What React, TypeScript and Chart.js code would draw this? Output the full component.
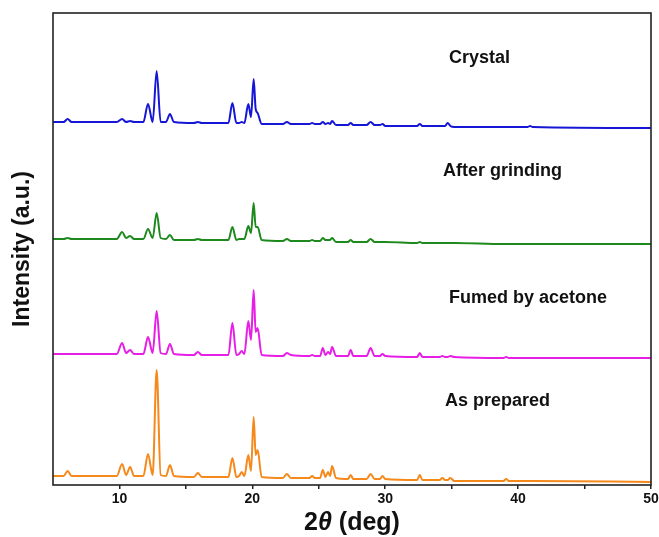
import React, { useEffect, useRef } from "react";
import { Chart, registerables } from "chart.js";

Chart.register(...registerables);

// 2θ sampling positions (deg)
const twoTheta = [
  5.0, 5.8, 6.1, 6.4, 9.8, 10.2, 10.5, 10.8, 11.1, 11.8,
  12.15, 12.5, 12.8, 13.1, 13.5, 13.8, 14.1, 15.6, 15.9, 16.2,
  18.2, 18.5, 18.8, 19.0, 19.2, 19.4, 19.7, 19.9, 20.1, 20.25,
  20.4, 20.7, 22.3, 22.6, 22.9, 24.3, 24.5, 24.7, 25.1, 25.3,
  25.5, 25.7, 25.85, 26.0, 26.3, 27.2, 27.4, 27.6, 28.6, 28.9,
  29.2, 29.6, 29.8, 30.0, 32.4, 32.6, 32.8, 34.1, 34.3, 34.5,
  34.7, 34.9, 35.2, 38.9, 39.1, 39.3, 40.7, 40.9, 41.1, 50.0,
];

const asPrepared = [
  9, 9, 14, 9, 9, 21, 10, 18, 9, 9,
  31, 10, 115, 10, 9, 20, 9, 8, 12, 8,
  8, 27, 8, 9, 13, 9, 30, 14, 68, 30,
  35, 8, 7, 11, 7, 7, 9, 7, 7, 15,
  8, 13, 9, 19, 7, 6, 10, 6, 6, 11,
  6, 6, 9, 6, 5, 10, 5, 5, 7, 5,
  5, 7, 4, 4, 6, 4, 4, 4, 4, 3,
];

const fumedByAcetone = [
  8, 8, 8, 8, 8, 19, 9, 12, 8, 8,
  25, 9, 51, 9, 8, 18, 8, 7, 10, 7,
  7, 39, 7, 8, 11, 8, 41, 22, 72, 30,
  34, 7, 6, 9, 7, 6, 7, 6, 6, 14,
  7, 10, 8, 15, 6, 6, 12, 6, 6, 14,
  6, 6, 8, 6, 5, 9, 5, 5, 6, 5,
  5, 6, 5, 4, 5, 4, 4, 4, 4, 4,
];

const afterGrinding = [
  8, 8, 9, 8, 8, 15, 9, 11, 8, 8,
  18, 9, 34, 9, 8, 12, 7, 7, 8, 7,
  7, 20, 7, 8, 8, 8, 21, 14, 44, 20,
  20, 7, 6, 8, 6, 6, 7, 6, 6, 9,
  7, 7, 7, 9, 5, 5, 7, 5, 5, 8,
  5, 5, 5, 5, 4, 5, 4, 4, 4, 4,
  4, 4, 4, 3, 3, 3, 3, 3, 3, 3,
];

const crystal = [
  9, 9, 12, 9, 9, 12, 9, 10, 9, 9,
  27, 9, 60, 9, 9, 17, 9, 8, 9, 8,
  8, 28, 8, 8, 9, 8, 27, 14, 52, 22,
  18, 7, 7, 9, 7, 7, 8, 7, 7, 9,
  7, 8, 7, 10, 6, 6, 8, 6, 6, 9,
  6, 6, 7, 5, 5, 7, 5, 5, 5, 5,
  8, 5, 4, 4, 4, 4, 4, 5, 4, 3,
];

const seriesNames = ["As prepared", "Fumed by acetone", "After grinding", "Crystal"];
const seriesValues = [asPrepared, fumedByAcetone, afterGrinding, crystal];
const seriesOffsets = [0, 123, 238, 354];
const seriesColors = ["#f5891c", "#e61ee6", "#1e8a1e", "#1616d6"];

// label anchor points (2θ, stacked intensity)
const labelX = [34.5, 34.8, 34.35, 34.8];
const labelY = [84, 187, 314, 427];

const xMajorTicks = [10, 20, 30, 40, 50];
const xMinorTicks = [15, 25, 35, 45];

const FONT = "'Liberation Sans', Arial, Helvetica, sans-serif";

const overlayPlugin = {
  id: "overlay",
  afterDraw(chart: any) {
    const { ctx, chartArea: a, scales } = chart;
    ctx.save();
    ctx.strokeStyle = "#222";
    ctx.lineWidth = 1.6;
    ctx.strokeRect(a.left, a.top, a.right - a.left, a.bottom - a.top);

    ctx.fillStyle = "#111";
    ctx.font = `bold 18px ${FONT}`;
    ctx.textAlign = "left";
    ctx.textBaseline = "middle";
    seriesNames.forEach((n, i) => {
      ctx.fillText(n, scales.x.getPixelForValue(labelX[i]), scales.y.getPixelForValue(labelY[i]));
    });

    // y title
    ctx.save();
    ctx.translate(23, (a.top + a.bottom) / 2);
    ctx.rotate(-Math.PI / 2);
    ctx.font = `bold 23px ${FONT}`;
    ctx.textAlign = "center";
    ctx.fillText("Intensity (a.u.)", 0, 0);
    ctx.restore();

    // x title with italic theta
    const parts: [string, string][] = [
      ["2", `bold 25px ${FONT}`],
      ["\u03B8", `italic bold 25px ${FONT}`],
      [" (deg)", `bold 25px ${FONT}`],
    ];
    let total = 0;
    parts.forEach(([t, f]) => {
      ctx.font = f;
      total += ctx.measureText(t).width;
    });
    let x = (a.left + a.right) / 2 - total / 2;
    ctx.textAlign = "left";
    ctx.textBaseline = "middle";
    parts.forEach(([t, f]) => {
      ctx.font = f;
      ctx.fillText(t, x, 523);
      x += ctx.measureText(t).width;
    });
    ctx.restore();
  },
};

export default function App() {
  const ref = useRef<HTMLCanvasElement | null>(null);
  useEffect(() => {
    if (!ref.current) return;
    const datasets = seriesValues.map((vals, i) => ({
      label: seriesNames[i],
      data: twoTheta.map((t, j) => ({ x: t, y: vals[j] + seriesOffsets[i] })),
      borderColor: seriesColors[i],
      backgroundColor: seriesColors[i],
      borderWidth: 2,
      pointRadius: 0,
      cubicInterpolationMode: "monotone" as const,
      fill: false,
    }));
    const chart = new Chart(ref.current, {
      type: "line",
      data: { datasets },
      options: {
        animation: false,
        responsive: true,
        maintainAspectRatio: false,
        layout: { padding: { left: 53, right: 8, top: 13, bottom: 0 } },
        plugins: { legend: { display: false }, tooltip: { enabled: false } },
        scales: {
          x: {
            type: "linear",
            min: 5,
            max: 50,
            border: { display: false },
            grid: {
              display: true,
              drawOnChartArea: false,
              drawTicks: true,
              tickLength: 4,
              color: "#222",
              lineWidth: 1.5,
            },
            ticks: {
              color: "#111",
              font: { family: FONT, size: 14, weight: "bold" },
              padding: 2,
              maxRotation: 0,
              autoSkip: false,
              callback: (v: any) => (xMajorTicks.includes(Number(v)) ? String(v) : ""),
            },
            afterBuildTicks: (scale: any) => {
              scale.ticks = [...xMajorTicks, ...xMinorTicks]
                .sort((p, q) => p - q)
                .map((v) => ({ value: v }));
            },
            afterFit: (scale: any) => {
              scale.height = 52;
              scale.paddingLeft = 0;
              scale.paddingRight = 0;
            },
          },
          y: {
            type: "linear",
            min: 0,
            max: 472,
            display: false,
          },
        },
      },
      plugins: [overlayPlugin],
    });
    return () => chart.destroy();
  }, []);
  return (
    <div style={{ position: "fixed", left: 0, top: 0, width: 659, height: 537, background: "#fff" }}>
      <canvas ref={ref} />
    </div>
  );
}
